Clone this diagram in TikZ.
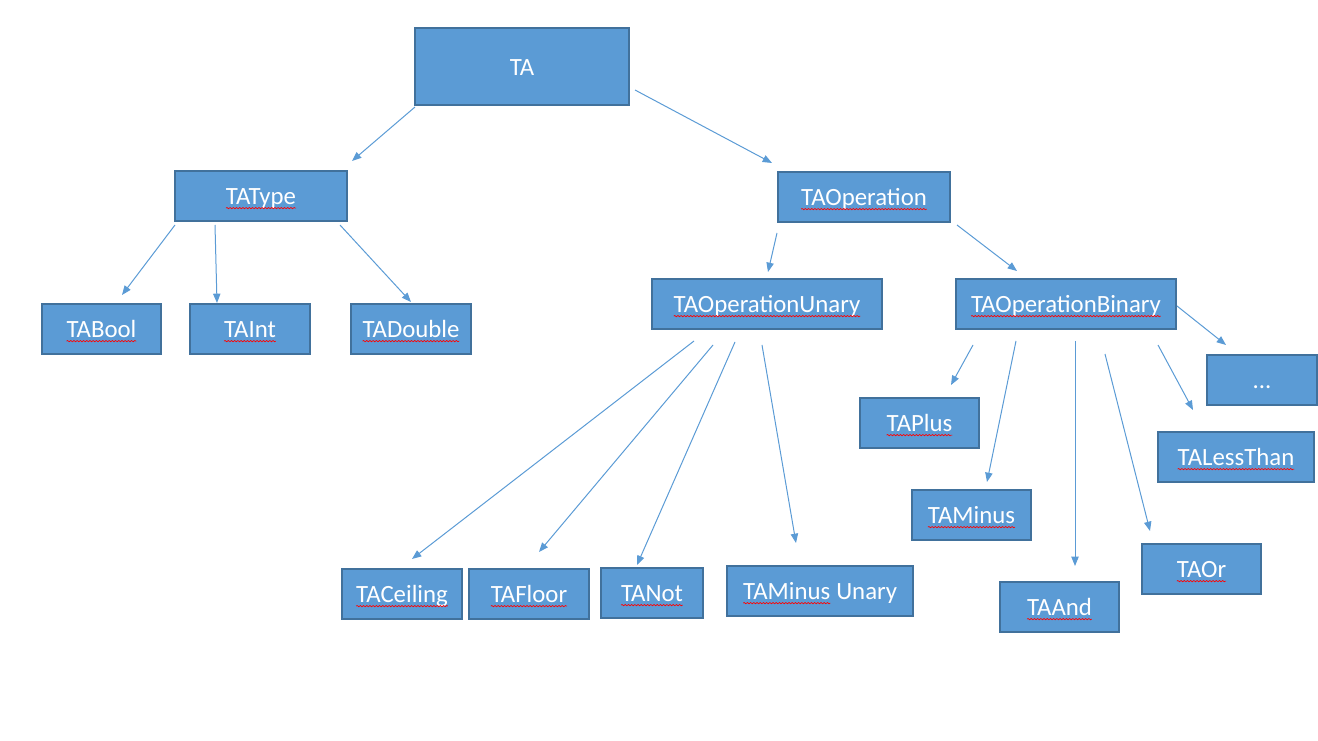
\documentclass[tikz,border=0pt]{standalone}
\usepackage{fontspec}
\setmainfont{Carlito}
\usetikzlibrary{arrows.meta}
\usetikzlibrary{decorations.pathmorphing}

\definecolor{boxfill}{HTML}{5B9BD5}
\definecolor{boxline}{HTML}{41719C}

% word with a spell-check underline
\newcommand\spell[1]{\tikz[baseline=(w.base)]{%
  \node[inner sep=0pt, outer sep=0pt, draw=none, fill=none,
        text height={}, text depth={},
        minimum width=0pt, minimum height=0pt, anchor=center] (w) {#1};
  \draw[red, line width=0.5pt, decorate,
        decoration={snake, amplitude=0.5pt, segment length=2.4pt}]
    ([yshift=-2.6pt]w.base west) -- ([yshift=-2.6pt]w.base east);}}

\tikzset{
  box/.style={rectangle, fill=boxfill, draw=boxline, line width=0.9pt,
              text=white, font=\fontsize{18.6}{22}\selectfont,
              text height=13.5pt, text depth=0.5pt,
              minimum height=37.5pt, inner sep=0pt, outer sep=0pt,
              anchor=center},
  link/.style={draw=boxfill, line width=0.75pt,
               -{Triangle[length=7pt, width=5.5pt]}},
}

\begin{document}
\begin{tikzpicture}[x=0.75pt, y=-0.75pt]
\useasboundingbox (0,0) rectangle (1318,741);

% top
\node[box, minimum width=160.5pt, minimum height=57.75pt] (TA) at (522,66.5) {TA};
\node[box, minimum width=129pt] (TAType) at (261,196) {\spell{TAType}};
\node[box, minimum width=129pt] (TAOperation) at (864,197) {\spell{TAOperation}};

% types
\node[box, minimum width=89.25pt] (TABool) at (101.5,329) {\spell{TABool}};
\node[box, minimum width=90pt] (TAInt) at (250,329) {\spell{TAInt}};
\node[box, minimum width=90pt] (TADouble) at (411,329) {\spell{TADouble}};

% operations
\node[box, minimum width=172.5pt] (TAUnary) at (767,304) {\spell{TAOperationUnary}};
\node[box, minimum width=165pt] (TABinary) at (1066,304) {\spell{TAOperationBinary}};

% unary
\node[box, minimum width=90pt] (TACeiling) at (402,594) {\spell{TACeiling}};
\node[box, minimum width=90pt] (TAFloor) at (529,594) {\spell{TAFloor}};
\node[box, minimum width=76.5pt] (TANot) at (652,593) {\spell{TANot}};
\node[box, minimum width=139.5pt] (TAMinusUnary) at (820,591) {\spell{TAMinus} Unary};

% binary
\node[box, minimum width=82.5pt] (TAMore) at (1262,380) {...};
\node[box, minimum width=89.25pt] (TAPlus) at (919.5,423) {\spell{TAPlus}};
\node[box, minimum width=117pt] (TALessThan) at (1236,457) {\spell{TALessThan}};
\node[box, minimum width=89.25pt] (TAMinus) at (971.5,515) {\spell{TAMinus}};
\node[box, minimum width=89.25pt] (TAOr) at (1201.5,569) {\spell{TAOr}};
\node[box, minimum width=89.25pt] (TAAnd) at (1059.5,607) {\spell{TAAnd}};

% arrows
\draw[link] ([shift={(0,2)}]TA.south west) -- ([shift={(5,-10)}]TAType.north east);
\draw[link] ([shift={(6,-15)}]TA.south east) -- ([shift={(-6,-9)}]TAOperation.north west);
%%%
\draw[link] ([shift={(0,4)}]TAType.south west) -- ([shift={(20.5,-9)}]TABool.north);
\draw[link] ([shift={(40,4)}]TAType.south west) -- ([shift={(27,-1)}]TAInt.north west);
\draw[link] ([shift={(-7,4)}]TAType.south east) -- ([shift={(0,-2)}]TADouble.north);
%%%
\draw[link] ([shift={(-1,11)}]TAOperation.south west) -- ([shift={(1,-7)}]TAUnary.north);
\draw[link] ([shift={(7,3)}]TAOperation.south east) -- ([shift={(-49,-8)}]TABinary.north);
%%%
\draw[link] ([shift={(-73,12)}]TAUnary.south) -- ([shift={(10,-10)}]TACeiling.north);
\draw[link] ([shift={(-54,16)}]TAUnary.south) -- ([shift={(10,-17)}]TAFloor.north);
\draw[link] ([shift={(-32,13)}]TAUnary.south) -- ([shift={(-15,-3)}]TANot.north);
\draw[link] ([shift={(-5,16)}]TAUnary.south) -- ([shift={(-24,-23)}]TAMinusUnary.north);
%%%
\draw[link] ([shift={(-93,16)}]TABinary.south) -- ([shift={(31.5,-13)}]TAPlus.north);
\draw[link] ([shift={(-50,12)}]TABinary.south) -- ([shift={(15.5,-8)}]TAMinus.north);
\draw[link] ([shift={(9,12)}]TABinary.south) -- ([shift={(15.5,-16)}]TAAnd.north);
\draw[link] ([shift={(39,25)}]TABinary.south) -- ([shift={(-51.5,-13)}]TAOr.north);
\draw[link] ([shift={(92,16)}]TABinary.south) -- ([shift={(-43,-22)}]TALessThan.north);
\draw[link] ([shift={(1,2)}]TABinary.east) -- ([shift={(-36,-10)}]TAMore.north);
\end{tikzpicture}
\end{document}
